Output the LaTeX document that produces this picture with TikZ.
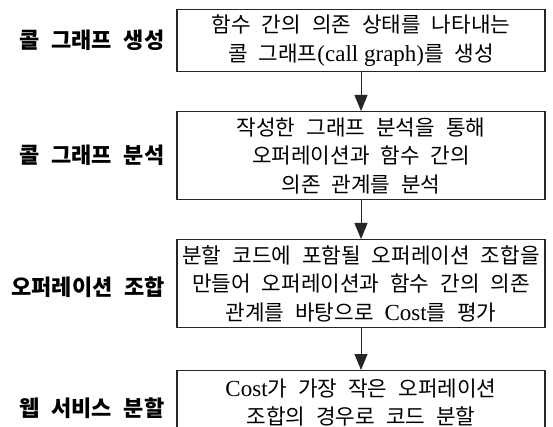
\documentclass[tikz,border=0pt]{standalone}
\usepackage{fontspec}
\usetikzlibrary{arrows.meta}
\newfontfamily\kr[WordSpace=3]{Noto Sans CJK KR}
\newfontfamily\krl[WordSpace=2.3]{Noto Sans CJK KR}
\newfontfamily\lat[Scale=1.08]{Liberation Serif}
\newcommand\la[1]{{\lat #1}}
\begin{document}
\begin{tikzpicture}[x=1pt,y=1pt,
  stepbox/.style={draw=black!85,line width=1.4pt,minimum width=368pt,anchor=north,
    align=center,inner sep=0pt,font={\kr\fontsize{21.3}{28.5}\selectfont}},
  lbl/.style={font={\krl\bfseries\fontsize{22}{22}\selectfont}},
  flow/.style={draw=black!85,line width=1pt,-{Triangle[width=13pt,length=16pt]}}]
\useasboundingbox (0,0) rectangle (553,-427);
\clip (0,0) rectangle (553,-427);
\fill[white] (0,0) rectangle (553,-427);
\node[stepbox,minimum height=62pt] (b1) at (361,-9)
  {함수 간의 의존 상태를 나타내는\\콜 그래프\la{(call graph)}를 생성};
\node[stepbox,minimum height=88pt] (b2) at (361,-111)
  {작성한 그래프 분석을 통해\\오퍼레이션과 함수 간의\\의존 관계를 분석};
\node[stepbox,minimum height=88pt] (b3) at (361,-239)
  {분할 코드에 포함될 오퍼레이션 조합을\\만들어 오퍼레이션과 함수 간의 의존\\관계를 바탕으로 \la{Cost}를 평가};
\node[stepbox,minimum height=64pt] (b4) at (361,-370)
  {\la{Cost}가 가장 작은 오퍼레이션\\조합의 경우로 코드 분할};
\node[lbl] (l1) at (92,-40) {콜 그래프 생성};
\node[lbl] (l2) at (92,-155) {콜 그래프 분석};
\node[lbl] (l3) at (88,-287) {오퍼레이션 조합};
\node[lbl] (l4) at (92,-408) {웹 서비스 분할};
\draw[flow] (b1) -- (b2);
\draw[flow] (b2) -- (b3);
\draw[flow] (b3) -- (b4);
\end{tikzpicture}
\end{document}
